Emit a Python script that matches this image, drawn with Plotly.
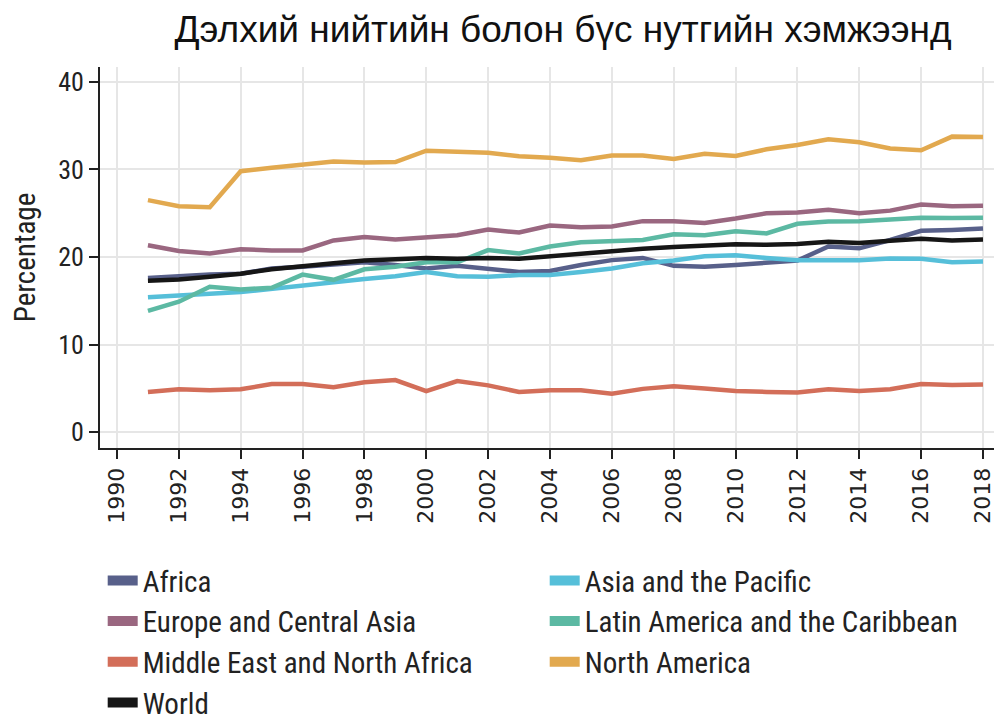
import plotly.graph_objects as go

years = list(range(1991, 2019))

africa = [17.6, 17.85, 18.0, 18.1, 18.7, 18.9, 19.2, 19.4, 19.1, 18.7, 19.0, 18.6, 18.3, 18.4, 19.1, 19.65,
          19.9, 19.0, 18.9, 19.1, 19.35, 19.6, 21.2, 21.0, 21.95, 23.0, 23.1, 23.25]
asia_pacific = [15.4, 15.55, 15.8, 16.0, 16.4, 16.8, 17.1, 17.5, 17.8, 18.3, 17.8, 17.75, 17.95, 17.95, 18.3, 18.7,
                19.3, 19.6, 20.1, 20.2, 19.9, 19.65, 19.65, 19.65, 19.85, 19.8, 19.4, 19.5]
europe_ca = [21.35, 20.7, 20.4, 20.9, 20.75, 20.75, 21.9, 22.3, 22.0, 22.3, 22.5, 23.15, 22.8, 23.6, 23.4, 23.5,
             24.1, 24.1, 23.9, 24.4, 25.0, 25.1, 25.4, 25.0, 25.3, 26.0, 25.8, 25.85]
latin_am = [13.85, 14.9, 16.6, 16.3, 16.5, 18.0, 17.4, 18.6, 18.9, 19.4, 19.4, 20.8, 20.4, 21.2, 21.7, 21.85,
            21.95, 22.6, 22.5, 22.95, 22.7, 23.8, 24.05, 24.1, 24.35, 24.5, 24.45, 24.5]
mena = [4.6, 4.9, 4.8, 4.9, 5.5, 5.5, 5.15, 5.7, 5.95, 4.7, 5.85, 5.35, 4.6, 4.8, 4.8, 4.4,
        4.95, 5.25, 5.0, 4.7, 4.6, 4.55, 4.9, 4.7, 4.9, 5.5, 5.4, 5.45]
north_am = [26.5, 25.8, 25.7, 29.8, 30.2, 30.5, 30.9, 30.8, 30.85, 32.15, 32.0, 31.9, 31.5, 31.35, 31.05, 31.6,
            31.6, 31.2, 31.8, 31.55, 32.3, 32.8, 33.45, 33.1, 32.4, 32.2, 33.75, 33.7]
world = [17.3, 17.45, 17.75, 18.1, 18.6, 19.0, 19.3, 19.6, 19.7, 19.9, 19.8, 19.9, 19.8, 20.1, 20.35, 20.6,
         20.95, 21.15, 21.25, 21.45, 21.4, 21.5, 21.75, 21.6, 21.85, 22.1, 21.9, 22.0]

series_names = ["Africa", "Asia and the Pacific", "Europe and Central Asia",
                "Latin America and the Caribbean", "Middle East and North Africa",
                "North America", "World"]
series_values = [africa, asia_pacific, europe_ca, latin_am, mena, north_am, world]
series_colors = ["#58608a", "#56bfd9", "#9a6780", "#5cb9a3", "#d36e59", "#e2a94f", "#161616"]

x_ticks = list(range(1990, 2019, 2))
y_ticks = [0, 10, 20, 30, 40]

COND = "Liberation Sans Narrow, Roboto Condensed, DejaVu Sans Condensed, Arial Narrow, sans-serif"

fig = go.Figure()
for name, vals, col in zip(series_names, series_values, series_colors):
    fig.add_trace(go.Scatter(x=years, y=vals, mode="lines", name=name,
                             line=dict(color=col, width=4.5), showlegend=False))
for name, col in zip(series_names, series_colors):
    fig.add_trace(go.Scatter(x=[None], y=[None], mode="lines", name=name,
                             line=dict(color=col, width=14),
                             showlegend=True))

# page body has an 8px margin, so the figure is sized/offset to compensate
fig.update_layout(
    width=994, height=710,
    margin=dict(l=92, r=2, t=59, b=270, autoexpand=False),
    paper_bgcolor="white", plot_bgcolor="white",
    title=dict(text="Дэлхий нийтийн болон бүс нутгийн хэмжээнд",
               x=555/994, xref="container", xanchor="center",
               y=1-21/710, yref="container", yanchor="middle",
               font=dict(family="Liberation Sans, Arial, sans-serif", size=37, color="#111")),
    xaxis=dict(range=[1989.45, 2018.55], tickmode="array", tickvals=x_ticks,
               ticktext=[str(t) for t in x_ticks], tickangle=-90, automargin=False,
               showgrid=True, gridcolor="#e6e6e6", gridwidth=2,
               showline=True, linecolor="#222", linewidth=2,
               ticks="outside", ticklen=9, tickwidth=2, tickcolor="#222",
               tickfont=dict(family="DejaVu Sans, sans-serif", size=22, color="#222"),
               zeroline=False),
    yaxis=dict(range=[-1.8, 41.7], tickmode="array", tickvals=y_ticks, automargin=False,
               showgrid=True, gridcolor="#e6e6e6", gridwidth=2,
               showline=True, linecolor="#222", linewidth=2,
               ticks="outside", ticklen=9, tickwidth=2, tickcolor="#222",
               tickfont=dict(family=COND, size=26, color="#222"),
               title=dict(text="Percentage", standoff=18,
                          font=dict(family=COND, size=29, color="#222")),
               zeroline=False),
    legend=dict(orientation="h", x=0.003, xanchor="left", y=-0.281, yanchor="top",
                entrywidth=397, entrywidthmode="pixels", itemwidth=30,
                font=dict(family=COND, size=29, color="#222"),
                tracegroupgap=0, bgcolor="rgba(0,0,0,0)"),
)

fig.write_html("out.html")
